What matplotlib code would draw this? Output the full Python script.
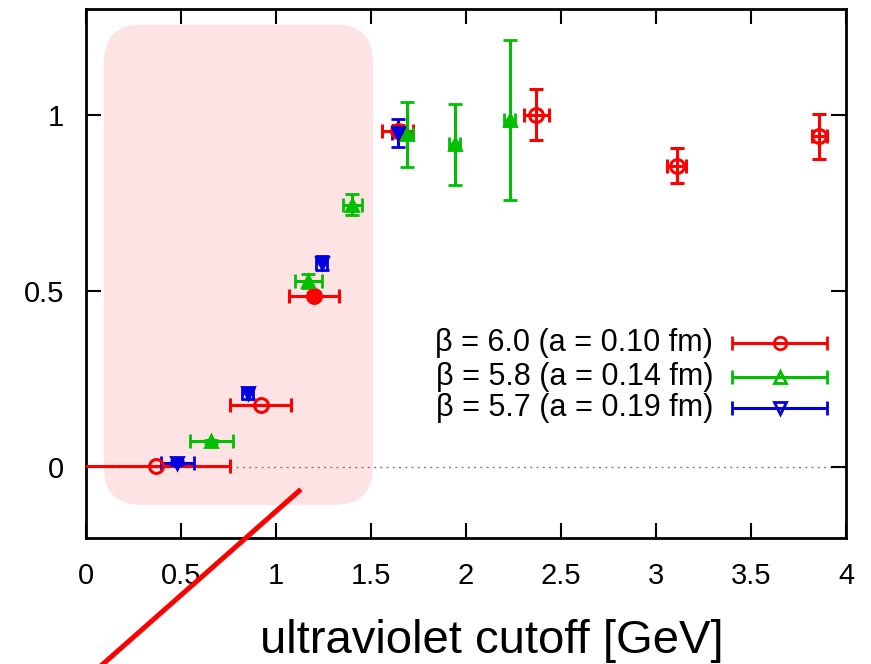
import numpy as np
import matplotlib
matplotlib.use('Agg')
import matplotlib.pyplot as plt
from matplotlib.patches import FancyBboxPatch
from matplotlib.lines import Line2D

plt.rcParams['font.family'] = ['Liberation Sans', 'DejaVu Sans']

#---------------------------------------------- data
# beta = 6.0 (a = 0.10 fm)
red_x    = [0.37, 0.92, 1.20, 1.64, 2.37, 3.11, 3.86]
red_y    = [0.005, 0.176, 0.487, 0.955, 1.000, 0.856, 0.939]
red_xerr = [0.39, 0.16, 0.13, 0.08, 0.065, 0.05, 0.04]
red_yerr = [0.0, 0.0, 0.01, 0.015, 0.072, 0.05, 0.064]

# beta = 5.8 (a = 0.14 fm)
grn_x    = [0.66, 1.17, 1.40, 1.69, 1.94, 2.23]
grn_y    = [0.074, 0.528, 0.745, 0.945, 0.917, 0.985]
grn_xerr = [0.115, 0.07, 0.05, 0.03, 0.03, 0.03]
grn_yerr = [0.005, 0.02, 0.03, 0.092, 0.115, 0.228]

# beta = 5.7 (a = 0.19 fm)
blu_x    = [0.48, 0.85, 1.24, 1.64]
blu_y    = [0.012, 0.21, 0.58, 0.949]
blu_xerr = [0.087, 0.03, 0.03, 0.03]
blu_yerr = [0.005, 0.015, 0.02, 0.04]

labels = ['\u03b2 = 6.0 (a = 0.10 fm)',
          '\u03b2 = 5.8 (a = 0.14 fm)',
          '\u03b2 = 5.7 (a = 0.19 fm)']
xticks = [0, 0.5, 1, 1.5, 2, 2.5, 3, 3.5, 4]
xtick_lbl = ['0', '0.5', '1', '1.5', '2', '2.5', '3', '3.5', '4']
yticks = [0, 0.5, 1]
ytick_lbl = ['0', '0.5', '1']

col_r = '#ff0000'
col_g = '#00c000'
col_b = '#0000e0'

#---------------------------------------------- figure
fig = plt.figure(figsize=(8.71, 6.64), dpi=100)
ax = fig.add_axes([86/871, 1-538/664, 760/871, 529/664])
ax.set_xlim(0, 4)
ax.set_ylim(-0.2, 1.3)

# shaded region
box = FancyBboxPatch((0.294, 0.0), 1.016, 1.15,
                     boxstyle='round,pad=0.2,rounding_size=0.2',
                     mutation_aspect=0.53,
                     facecolor='#fde3e3', edgecolor='none', zorder=0)
ax.add_patch(box)

ax.axhline(0, ls=(0, (1.5, 3)), color='gray', lw=1, zorder=1)

ekw = dict(elinewidth=2.2, capsize=5, capthick=2.2, linestyle='none', zorder=5)
ax.errorbar(red_x, red_y, xerr=red_xerr, yerr=red_yerr, color=col_r, marker='o',
            markersize=10, markerfacecolor='none', markeredgewidth=2.2, **ekw)
ax.plot(red_x[2], red_y[2], 'o', color=col_r, markersize=10, zorder=6)
ax.errorbar(grn_x, grn_y, xerr=grn_xerr, yerr=grn_yerr, color=col_g, marker='^',
            markersize=9, markeredgewidth=2.0, **ekw)
ax.errorbar(blu_x, blu_y, xerr=blu_xerr, yerr=blu_yerr, color=col_b, marker='v',
            markersize=9, markeredgewidth=2.0, **ekw)

# legend drawn by hand, gnuplot style
leg_y = [0.3686, 0.3043, 0.2457]
leg_col = [col_r, col_g, col_b]
leg_mk = ['o', '^', 'v']
for yy, lb, cc, mk in zip(leg_y, labels, leg_col, leg_mk):
  ax.text(0.825, yy, lb, transform=ax.transAxes, ha='right', va='center', fontsize=22)
  ax.errorbar([0.9125], [yy], xerr=[0.0625], color=cc, marker=mk, markersize=9,
              markerfacecolor='none', markeredgewidth=2.0, elinewidth=2.2, capsize=5,
              capthick=2.2, transform=ax.transAxes, clip_on=False, zorder=6)

ax.set_xticks(xticks)
ax.set_xticklabels(xtick_lbl)
ax.set_yticks(yticks)
ax.set_yticklabels(ytick_lbl)
ax.tick_params(direction='in', length=11, width=1.5, top=True, right=True, labelsize=21)
ax.tick_params(axis='x', pad=17)
ax.tick_params(axis='y', pad=16)
for sp in ax.spines.values():
  sp.set_linewidth(2)

fig.text(492/871, 1-653/664, 'ultraviolet cutoff [GeV]', ha='center', va='baseline', fontsize=34)

# red pointer line
fig.add_artist(Line2D([299/871, 103/871], [1-491/664, 1-664/664], color=col_r, lw=3.6))

fig.savefig('out.png', dpi=100)
